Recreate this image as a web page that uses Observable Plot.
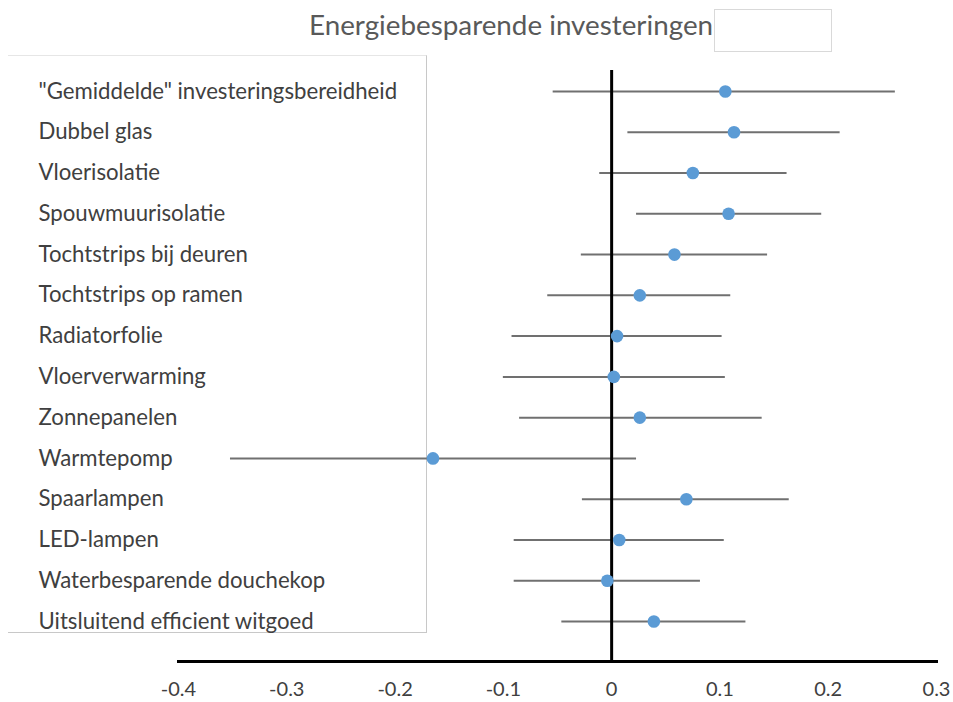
<!DOCTYPE html>
<html>
<head>
<meta charset="utf-8">
<script src="https://cdn.jsdelivr.net/npm/d3@7"></script>
<script src="https://cdn.jsdelivr.net/npm/@observablehq/plot@0.6"></script>
<style>
  body { margin: 0; background: #fff; }
  #page { position: relative; width: 953px; height: 702px; overflow: hidden; font-family: Lato, "Open Sans", sans-serif; }
  #title { position: absolute; left: 309px; top: 8px; font-size: 27.8px; color: #595959; white-space: nowrap; }
  #titlebox { position: absolute; left: 714px; top: 9px; width: 116px; height: 41px; border: 1px solid #d9d9d9; background: #fff; }
  #labelbox { position: absolute; left: 8px; top: 55px; width: 418px; height: 576px; border-top: 1px solid #e6e6e6; border-right: 1px solid #c8c8c8; border-bottom: 1px solid #c8c8c8; background: #fff; z-index: 0; }
  #chart { position: absolute; left: 0; top: 55px; z-index: 1; }
</style>
</head>
<body>
<div id="page">
  <div id="labelbox"></div>
  <div id="title">Energiebesparende investeringen</div>
  <div id="titlebox"></div>
  <div id="chart"></div>
</div>
<script>
const categories = [
  "\"Gemiddelde\" investeringsbereidheid",
  "Dubbel glas",
  "Vloerisolatie",
  "Spouwmuurisolatie",
  "Tochtstrips bij deuren",
  "Tochtstrips op ramen",
  "Radiatorfolie",
  "Vloerverwarming",
  "Zonnepanelen",
  "Warmtepomp",
  "Spaarlampen",
  "LED-lampen",
  "Waterbesparende douchekop",
  "Uitsluitend efficient witgoed"
];
const estimates = [0.105, 0.113, 0.075, 0.108, 0.058, 0.026, 0.005, 0.002, 0.026, -0.165, 0.069, 0.007, -0.004, 0.039];
const lower     = [-0.054, 0.015, -0.011, 0.023, -0.028, -0.059, -0.092, -0.100, -0.085, -0.352, -0.027, -0.090, -0.090, -0.046];
const upper     = [0.262, 0.211, 0.162, 0.194, 0.144, 0.110, 0.102, 0.105, 0.139, 0.023, 0.164, 0.104, 0.082, 0.124];
const xTicks = [-0.4, -0.3, -0.2, -0.1, 0, 0.1, 0.2, 0.3];

const data = categories.map((c, i) => ({name: c, est: estimates[i], lo: lower[i], hi: upper[i]}));

const chart = Plot.plot({
  width: 953,
  height: 647,
  marginLeft: 178,
  marginRight: 17,
  marginTop: 15,
  marginBottom: 41,
  style: {background: "transparent", fontFamily: "Lato, 'Open Sans', sans-serif", color: "#404040", overflow: "visible"},
  x: {domain: [-0.4, 0.3]},
  y: {type: "point", domain: categories, range: [36, 566], padding: 0, round: false},
  marks: [
    Plot.ruleY(data, {y: "name", x1: "lo", x2: "hi", stroke: "#707070", strokeWidth: 2}),
    Plot.ruleX([0], {stroke: "#000", strokeWidth: 3}),
    Plot.frame({anchor: "bottom", stroke: "#000", strokeWidth: 3}),
    Plot.dot(data, {x: "est", y: "name", r: 6.3, fill: "#5b9bd5", stroke: "none"}),
    Plot.axisY({tickSize: 0, tickPadding: 0, textAnchor: "start", dx: -140, fontSize: 22.2, fill: "#404040", label: null}),
    Plot.axisX({ticks: xTicks, tickSize: 0, tickPadding: 20, fontSize: 20, fill: "#404040", label: null,
      tickFormat: d => d === 0 ? "0" : d.toFixed(1)})
  ]
});
document.getElementById("chart").appendChild(chart);
</script>
</body>
</html>
